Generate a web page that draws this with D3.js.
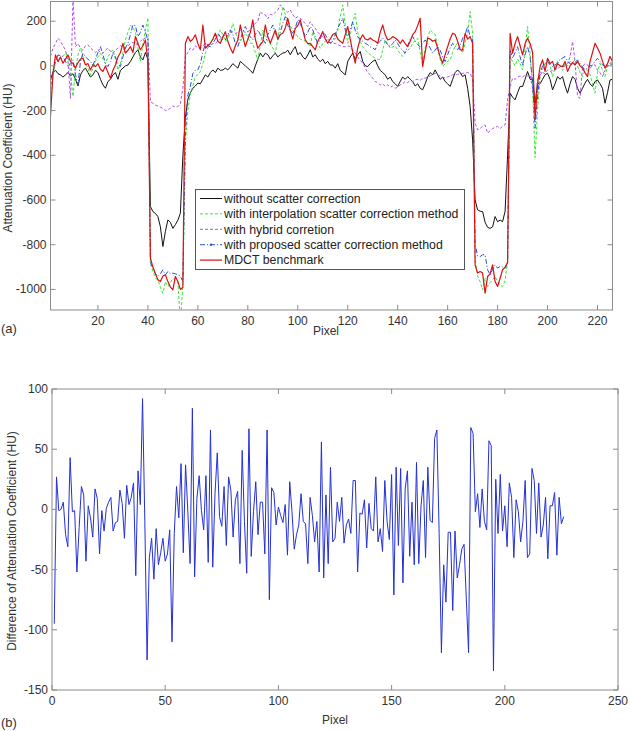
<!DOCTYPE html>
<html><head><meta charset="utf-8">
<script src="https://cdn.jsdelivr.net/npm/d3@7"></script>
<style>
html,body{margin:0;padding:0;background:#fff;}
svg{display:block;font-family:"Liberation Sans",Arial,Helvetica,sans-serif;}
</style></head>
<body>
<svg id="chart" width="630" height="731"></svg>
<script>
// ---------- DATA ----------
const seriesNames = ["without scatter correction","with interpolation scatter correction method","with hybrid corretion","with proposed scatter correction method","MDCT benchmark"];
const xTicksTop = [20,40,60,80,100,120,140,160,180,200,220];
const yTicksTop = [-1000,-800,-600,-400,-200,0,200];
const xTicksBottom = [0,50,100,150,200,250];
const yTicksBottom = [-150,-100,-50,0,50,100];

const noCorrection = [
-60,-30,-20,-35,-40,-50,-40,-30,-45,-35,-60,-90,-40,-20,-10,-30,-50,-40,-20,-30,
-60,-85,-100,-70,-60,-40,-30,-60,-20,-10,0,4,20,40,60,72,40,27,60,30,
-629,-652,-660,-674,-720,-808,-740,-689,-700,-727,-710,-690,-659,-400,-230,-150,-120,-100,-90,-77,
-80,-60,-40,-50,-30,-18,-30,-10,-20,-18,-10,-18,-5,10,0,-10,20,10,0,-10,
-20,-33,0,30,57,40,57,50,30,45,57,40,50,57,60,70,50,70,86,50,
60,40,30,49,72,40,50,30,19,30,10,20,4,4,-10,10,-20,-30,-40,20,
40,57,30,50,64,20,0,-3,10,20,27,0,-20,-30,-40,-60,-50,-70,-80,-92,
-70,-50,-60,-48,-60,-70,-90,-80,-100,-107,-80,-50,-30,-40,-18,-40,-60,-50,-70,-80,
-92,-60,-30,-18,-30,-48,-40,-100,-182,-331,-600,-644,-650,-652,-700,-722,-727,-720,-674,-697,
-690,-697,-650,-400,-122,-140,-152,-120,-92,-92,-60,-25,-60,-60,-167,-77,-80,-60,-40,-33,
-60,-107,-80,-48,-60,-48,-90,-122,-80,-48,-60,-100,-122,-100,-77,-60,-80,-92,-70,-63,
-80,-100,-167,-120,-63,-60];

const interpolation = [
-150,-48,20,40,30,45,57,40,-30,-137,-20,50,79,40,10,-10,-40,-10,20,40,
57,30,10,40,60,72,30,-18,10,60,116,150,183,170,153,80,19,100,160,215,
-883,-920,-950,-957,-990,-1017,-965,-987,-970,-950,-960,-965,-1150,-980,-350,-200,-122,-90,-48,-40,
-25,10,57,80,100,116,140,130,161,140,110,120,150,190,150,120,110,130,146,130,
101,101,60,27,90,160,130,110,100,80,57,120,200,265,230,206,180,160,146,130,
120,116,110,100,86,153,120,100,79,100,110,116,120,118,120,160,220,273,180,101,
140,190,235,150,110,86,70,60,50,42,35,30,27,70,116,100,79,85,90,70,
55,42,60,70,80,100,116,124,60,4,80,130,161,150,140,80,30,-3,10,20,
27,60,90,101,80,57,100,146,243,146,-868,-940,-965,-1002,-950,-987,-970,-957,-942,-965,
-980,-987,-960,-868,42,20,0,30,10,-18,80,176,60,-100,-410,-200,-50,-18,10,30,
0,-48,-10,20,0,-20,10,0,20,15,27,0,-30,-48,-20,-18,-40,-80,-122,-30,
12,-20,-48,0,42,20];

const hybrid = [
42,80,100,124,110,90,70,20,-145,300,86,100,80,70,90,95,80,70,60,72,
60,57,70,80,65,57,70,80,90,85,80,90,100,105,95,100,110,120,125,130,
-160,-167,-175,-180,-185,-190,-200,-197,-190,-179,-185,-182,-170,-100,42,60,80,70,90,80,
79,90,100,95,90,100,101,110,120,130,140,135,150,153,145,150,160,155,150,153,
160,180,190,200,243,230,228,210,230,228,240,250,273,260,250,240,250,230,213,220,
213,200,190,176,198,180,168,150,140,131,120,110,105,101,101,95,90,86,86,90,
86,70,57,40,25,12,-10,-30,-40,-55,-70,-75,-85,-80,-92,-85,-95,-90,-100,-95,
-85,-80,-70,-75,-65,-70,-63,-60,-65,-55,-55,-50,-45,-40,-33,-40,-45,-50,-55,-50,
-45,-40,-40,-38,-35,-33,-33,-30,-33,-60,-257,-286,-280,-270,-264,-301,-290,-280,-275,-271,
-280,-270,-264,-150,-92,-55,-60,-50,-45,-50,-40,-45,-40,-100,-200,-60,-40,-30,-35,-18,
-25,-20,-10,-15,-3,-5,0,10,40,109,20,-137,-145,-3,10,5,-10,0,5,-20,
-30,-48,-20,0,12,15];

const proposed = [
-92,-20,20,49,45,42,20,-3,10,27,-40,-85,20,57,40,30,20,4,30,60,
86,50,10,-3,20,57,40,10,-3,40,80,101,140,183,180,131,150,183,150,116,
-880,-905,-930,-942,-930,-912,-935,-920,-930,-927,-930,-935,-940,-965,-300,-130,-90,-33,-20,-18,
10,60,101,90,86,100,120,146,130,116,116,140,161,140,100,86,120,150,176,150,
130,116,140,161,140,120,101,140,160,183,150,116,150,190,220,180,160,146,170,206,
190,160,131,150,176,161,130,101,120,153,140,120,101,110,140,170,190,213,160,131,
160,198,160,130,116,110,101,95,85,80,72,100,110,124,110,95,86,100,116,100,
80,70,57,90,120,131,110,95,86,100,116,100,80,57,70,86,70,40,19,50,
80,101,90,72,90,124,140,176,131,120,-800,-850,-853,-845,-845,-912,-935,-910,-890,-905,
-897,-900,-905,-880,72,34,60,86,40,4,50,86,40,-77,-279,-137,-33,0,10,19,
5,-3,5,12,30,35,42,20,10,4,15,27,10,-5,-18,-10,0,4,20,34,
20,5,-3,0,4,10];

const benchmark = [
-226,-33,49,19,40,12,30,49,20,10,-10,15,30,34,5,10,-18,5,-3,10,
-15,-25,0,-30,-55,-20,4,40,60,101,57,70,86,60,131,100,72,90,116,20,
-860,-900,-930,-957,-965,-940,-935,-965,-990,-1002,-942,-965,-1000,-990,100,131,109,120,139,100,
72,183,79,90,101,120,146,110,101,130,153,110,80,57,90,116,183,130,86,120,
150,206,120,79,95,109,183,130,101,130,161,120,140,146,170,213,160,120,168,180,
206,160,116,100,101,86,72,110,130,153,120,101,120,140,146,120,110,101,140,176,
120,60,12,80,120,139,120,116,125,116,110,101,150,183,140,116,120,131,125,116,
100,116,100,86,110,140,153,180,213,-3,60,124,120,110,116,80,40,12,50,86,
120,146,140,110,72,72,146,120,131,100,-890,-927,-920,-927,-1017,-942,-930,-890,-965,-987,
-950,-912,-900,-880,146,57,100,131,90,49,100,124,100,60,-241,-80,-3,27,-25,34,
10,20,-18,10,0,-3,20,-25,0,15,4,20,0,-10,-30,-48,20,60,101,80,
57,20,-10,10,42,20];

const difference = [
-95,27,-1,0,6,-21,-31,43,-2,-1,-52,-15,19,12,-43,3,-7,-23,17,9,
-37,-1,-18,1,6,10,-18,-11,-10,16,5,-24,20,4,10,22,-55,32,4,92,
-10,-125,-40,-24,-58,-16,-46,-36,-24,-43,-37,-17,-110,-20,19,-7,38,-36,37,-2,
-45,84,-56,9,28,-1,-17,28,-44,66,-48,13,47,-6,-14,19,-30,27,16,-23,
8,15,-45,49,-10,-53,67,-39,-2,23,-21,6,6,-37,66,-75,18,14,-13,2,
-5,-11,4,-38,23,-2,-33,-21,-13,13,-10,-12,-45,10,-5,-27,-10,-52,56,-57,
12,-45,35,-27,-24,6,-10,10,-28,-13,-8,-20,24,24,-52,-3,-4,8,-32,5,
-16,-18,27,-27,-16,-35,24,-10,-25,29,-71,35,-30,34,-61,17,32,-39,6,-46,
39,-45,3,24,-40,35,-9,-11,59,66,-20,-119,-46,-77,-19,-19,-84,-18,-57,-46,
-33,-29,-74,-119,68,63,-2,13,-15,17,-10,-17,57,53,-134,25,-20,29,-18,3,
-31,22,10,-40,8,-2,-27,-10,24,-40,-37,34,24,-20,22,-23,-13,10,-41,3,
3,14,-38,10,-12,-6];

// ---------- DRAWING ----------
const svg = d3.select("#chart");
const axisColor = "#8c8c8c";
const textColor = "#333";

function frame(g, x, y, xt, yt){
  const [x0,x1] = x.range(), [y0,y1] = y.range();
  const tl = 5;
  xt.forEach(t=>{
    g.append("line").attr("x1",x(t)).attr("x2",x(t)).attr("y1",y0).attr("y2",y0-tl).attr("stroke",axisColor);
    g.append("line").attr("x1",x(t)).attr("x2",x(t)).attr("y1",y1).attr("y2",y1+tl).attr("stroke",axisColor);
    g.append("text").attr("x",x(t)).attr("y",y0+15).attr("text-anchor","middle")
      .attr("font-size",12).attr("fill",textColor).text(t);
  });
  yt.forEach(t=>{
    g.append("line").attr("x1",x0).attr("x2",x0+tl).attr("y1",y(t)).attr("y2",y(t)).attr("stroke",axisColor);
    g.append("line").attr("x1",x1).attr("x2",x1-tl).attr("y1",y(t)).attr("y2",y(t)).attr("stroke",axisColor);
    g.append("text").attr("x",x0-4).attr("y",y(t)+4).attr("text-anchor","end")
      .attr("font-size",12).attr("fill",textColor).text(t);
  });
  g.append("rect").attr("x",x0).attr("y",y1).attr("width",x1-x0).attr("height",y0-y1)
    .attr("fill","none").attr("stroke",axisColor).attr("stroke-width",1);
}

// ----- Top chart -----
const xTop = d3.scaleLinear().domain([1,226]).range([50.5,612.5]);
const yTop = d3.scaleLinear().domain([-1092,288]).range([310,1.5]);
const gTop = svg.append("g");
svg.append("defs").append("clipPath").attr("id","clipTop").append("rect")
  .attr("x",50.5).attr("y",1.5).attr("width",562).attr("height",308.5);

const topSeries = [
  {data: noCorrection, color:"#111111", dash:null, w:1},
  {data: interpolation, color:"#33e633", dash:"3,2", w:1},
  {data: hybrid, color:"#b050f0", dash:"3,2", w:1},
  {data: proposed, color:"#2a4ee0", dash:"5,2,1,2", w:1},
  {data: benchmark, color:"#dd1111", dash:null, w:1.2}
];
const lineTop = d3.line().x((d,i)=>xTop(i+1)).y(d=>yTop(d));
const plotTop = gTop.append("g").attr("clip-path","url(#clipTop)");
topSeries.forEach(s=>{
  plotTop.append("path").datum(s.data).attr("d",lineTop).attr("fill","none")
    .attr("stroke",s.color).attr("stroke-width",s.w)
    .attr("stroke-dasharray",s.dash).attr("stroke-linejoin","round");
});
frame(gTop, xTop, yTop, xTicksTop, yTicksTop);

// legend
const lg = gTop.append("g");
lg.append("rect").attr("x",195.5).attr("y",189.5).attr("width",269).attr("height",80)
  .attr("fill","#fff").attr("stroke","#555");
topSeries.forEach((s,k)=>{
  const yy = 198.5 + k*15.4;
  lg.append("line").attr("x1",200).attr("x2",222).attr("y1",yy).attr("y2",yy)
    .attr("stroke",s.color).attr("stroke-width",s.w).attr("stroke-dasharray",s.dash);
  if(k===3) lg.append("circle").attr("cx",211).attr("cy",yy).attr("r",1.2).attr("fill",s.color);
  lg.append("text").attr("x",224).attr("y",yy+4.3).attr("font-size",12.3).attr("fill","#222").text(seriesNames[k]);
});

gTop.append("text").attr("transform","translate(12,158) rotate(-90)").attr("text-anchor","middle")
  .attr("font-size",12).attr("fill",textColor).text("Attenuation Coefficient (HU)");
gTop.append("text").attr("x",326).attr("y",335).attr("text-anchor","middle")
  .attr("font-size",12).attr("fill",textColor).text("Pixel");
gTop.append("text").attr("x",1).attr("y",333).attr("font-size",13).attr("fill",textColor).text("(a)");

// ----- Bottom chart -----
const xBot = d3.scaleLinear().domain([0,250]).range([52,618]);
const yBot = d3.scaleLinear().domain([-150,100]).range([690,389]);
const gBot = svg.append("g");
const lineBot = d3.line().x((d,i)=>xBot(i+1)).y(d=>yBot(d));
gBot.append("path").datum(difference).attr("d",lineBot).attr("fill","none")
  .attr("stroke","#2430d6").attr("stroke-width",1).attr("stroke-linejoin","round");
frame(gBot, xBot, yBot, xTicksBottom, yTicksBottom);
gBot.append("text").attr("transform","translate(16,541) rotate(-90)").attr("text-anchor","middle")
  .attr("font-size",12).attr("fill",textColor).text("Difference of Attenuation Coefficient (HU)");
gBot.append("text").attr("x",335).attr("y",724).attr("text-anchor","middle")
  .attr("font-size",12).attr("fill",textColor).text("Pixel");
gBot.append("text").attr("x",1).attr("y",727).attr("font-size",13).attr("fill",textColor).text("(b)");
</script>
</body></html>
